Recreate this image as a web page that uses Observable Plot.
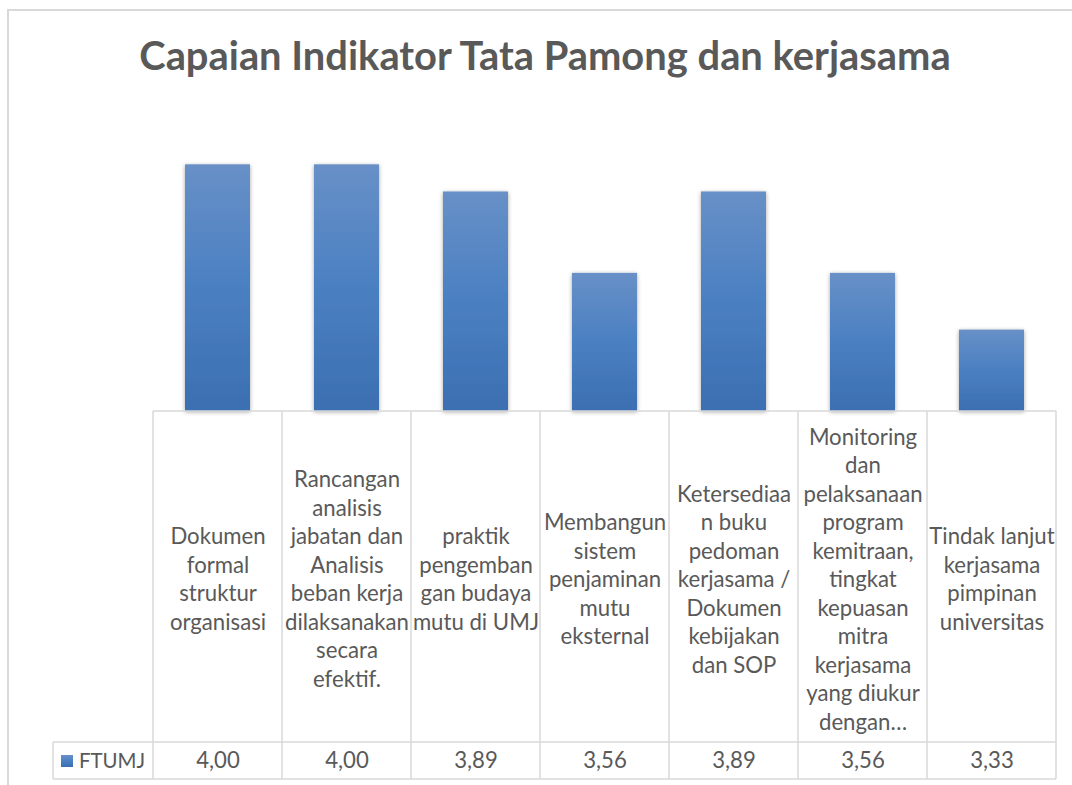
<!DOCTYPE html>
<html>
<head>
<meta charset="utf-8">
<script src="https://cdn.jsdelivr.net/npm/d3@7"></script>
<script src="https://cdn.jsdelivr.net/npm/@observablehq/plot@0.6"></script>
<style>
  html, body { margin: 0; padding: 0; background: #fff; }
  #wrap { position: relative; width: 1072px; height: 785px; overflow: hidden; }
  #frame { position: absolute; left: 7px; top: 9px; width: 1100px; height: 800px; border: 2px solid #d9d9d9; box-sizing: border-box; }
  #title { position: absolute; left: 0; width: 1090px; top: 31px; text-align: center; font-family: Lato, sans-serif; font-weight: bold; color: #595959; white-space: nowrap; }
  #chart { position: absolute; left: 0; top: 0; }
</style>
</head>
<body>
<div id="wrap">
  <div id="frame"></div>
  <div id="chart"></div>
  <div id="title"></div>
</div>
<script>
const titleText = "Capaian Indikator Tata Pamong dan kerjasama";
const seriesName = "FTUMJ";
const categories = [
  "Dokumen\nformal\nstruktur\norganisasi",
  "Rancangan\nanalisis\njabatan dan\nAnalisis\nbeban kerja\ndilaksanakan\nsecara\nefektif.",
  "praktik\npengemban\ngan budaya\nmutu di UMJ",
  "Membangun\nsistem\npenjaminan\nmutu\neksternal",
  "Ketersediaa\nn buku\npedoman\nkerjasama /\nDokumen\nkebijakan\ndan SOP",
  "Monitoring\ndan\npelaksanaan\nprogram\nkemitraan,\ntingkat\nkepuasan\nmitra\nkerjasama\nyang diukur\ndengan…",
  "Tindak lanjut\nkerjasama\npimpinan\nuniversitas"
];
const values = [4.00, 4.00, 3.89, 3.56, 3.89, 3.56, 3.33];
const yDomain = [3, 4.2];

const data = categories.map((c, i) => ({cat: c, v: values[i]}));
const fmt = v => d3.format(".2f")(v).replace(".", ",");

// font fitting
const ctx = document.createElement("canvas").getContext("2d");
function measure(text, font) { ctx.font = font; return ctx.measureText(text).width; }
const labelFamily = "Lato, sans-serif";
const labelSize = Math.min(23, 22 * 124 / measure("dilaksanakan", `22px ${labelFamily}`));
const titleSize = 34 * 814 / measure(titleText, `bold 34px ${labelFamily}`);

const title = document.getElementById("title");
title.textContent = titleText;
title.style.fontSize = titleSize + "px";

const textColor = "#595959";
const gridColor = "#d9d9d9";

function defs() {
  const d = d3.create("svg:defs");
  const g = d.append("linearGradient").attr("id", "barGrad").attr("x1", 0).attr("y1", 0).attr("x2", 0).attr("y2", 1);
  g.append("stop").attr("offset", "0%").attr("stop-color", "#6890c7");
  g.append("stop").attr("offset", "50%").attr("stop-color", "#4a80c2");
  g.append("stop").attr("offset", "100%").attr("stop-color", "#3b6fb2");
  const f = d.append("filter").attr("id", "barShadow").attr("x", "-30%").attr("y", "-10%").attr("width", "160%").attr("height", "120%");
  f.append("feDropShadow").attr("dx", 0).attr("dy", 1).attr("stdDeviation", 2).attr("flood-color", "#000").attr("flood-opacity", 0.35);
  return d.node();
}

const catRowH = 331, valRowH = 37, headerLeft = 53;

function table(index, scales, values, dims) {
  const g = d3.create("svg:g");
  const left = dims.marginLeft, right = dims.width - dims.marginRight;
  const top = dims.height - dims.marginBottom;
  const rowY = top + catRowH, bottom = rowY + valRowH;
  const n = categories.length, step = (right - left) / n;
  const line = (x1, y1, x2, y2) => g.append("line").attr("x1", x1).attr("y1", y1).attr("x2", x2).attr("y2", y2)
    .attr("stroke", gridColor).attr("stroke-width", 1.5);
  line(left, top, right, top);
  line(headerLeft, rowY, right, rowY);
  line(headerLeft, bottom, right, bottom);
  for (let i = 0; i <= n; ++i) line(left + i * step, top, left + i * step, bottom);
  line(headerLeft, rowY, headerLeft, bottom);
  // legend key
  g.append("rect").attr("x", headerLeft + 8).attr("y", rowY + 13).attr("width", 12).attr("height", 12).attr("fill", "url(#barGrad)");
  g.append("text").attr("x", headerLeft + 26).attr("y", rowY + valRowH / 2).attr("dy", "0.35em")
    .attr("text-anchor", "start")
    .attr("fill", textColor).attr("font-family", labelFamily).attr("font-size", labelSize * 0.92).text(seriesName);
  return g.node();
}

const chart = Plot.plot({
  width: 1072,
  height: 785,
  marginLeft: 153,
  marginRight: 16,
  marginTop: 115,
  marginBottom: 374,
  style: {background: "transparent", fontFamily: labelFamily},
  x: {domain: categories, paddingInner: 0.5, paddingOuter: 0.25, axis: null},
  y: {domain: yDomain, axis: null},
  marks: [
    defs,
    Plot.barY(data, {x: "cat", y1: yDomain[0], y2: "v", fill: "url(#barGrad)"}),
    table,
    Plot.text(data, {x: "cat", text: "cat", frameAnchor: "bottom", dy: catRowH / 2 + 1, lineAnchor: "middle",
      lineHeight: 28.5 / labelSize, fontSize: labelSize, fill: textColor}),
    Plot.text(data, {x: "cat", text: d => fmt(d.v), frameAnchor: "bottom", dy: catRowH + valRowH / 2, lineAnchor: "middle",
      fontSize: labelSize, fill: textColor})
  ]
});
d3.select(chart).selectAll("g[aria-label=bar] rect").attr("filter", "url(#barShadow)");
document.getElementById("chart").appendChild(chart);
</script>
</body>
</html>
